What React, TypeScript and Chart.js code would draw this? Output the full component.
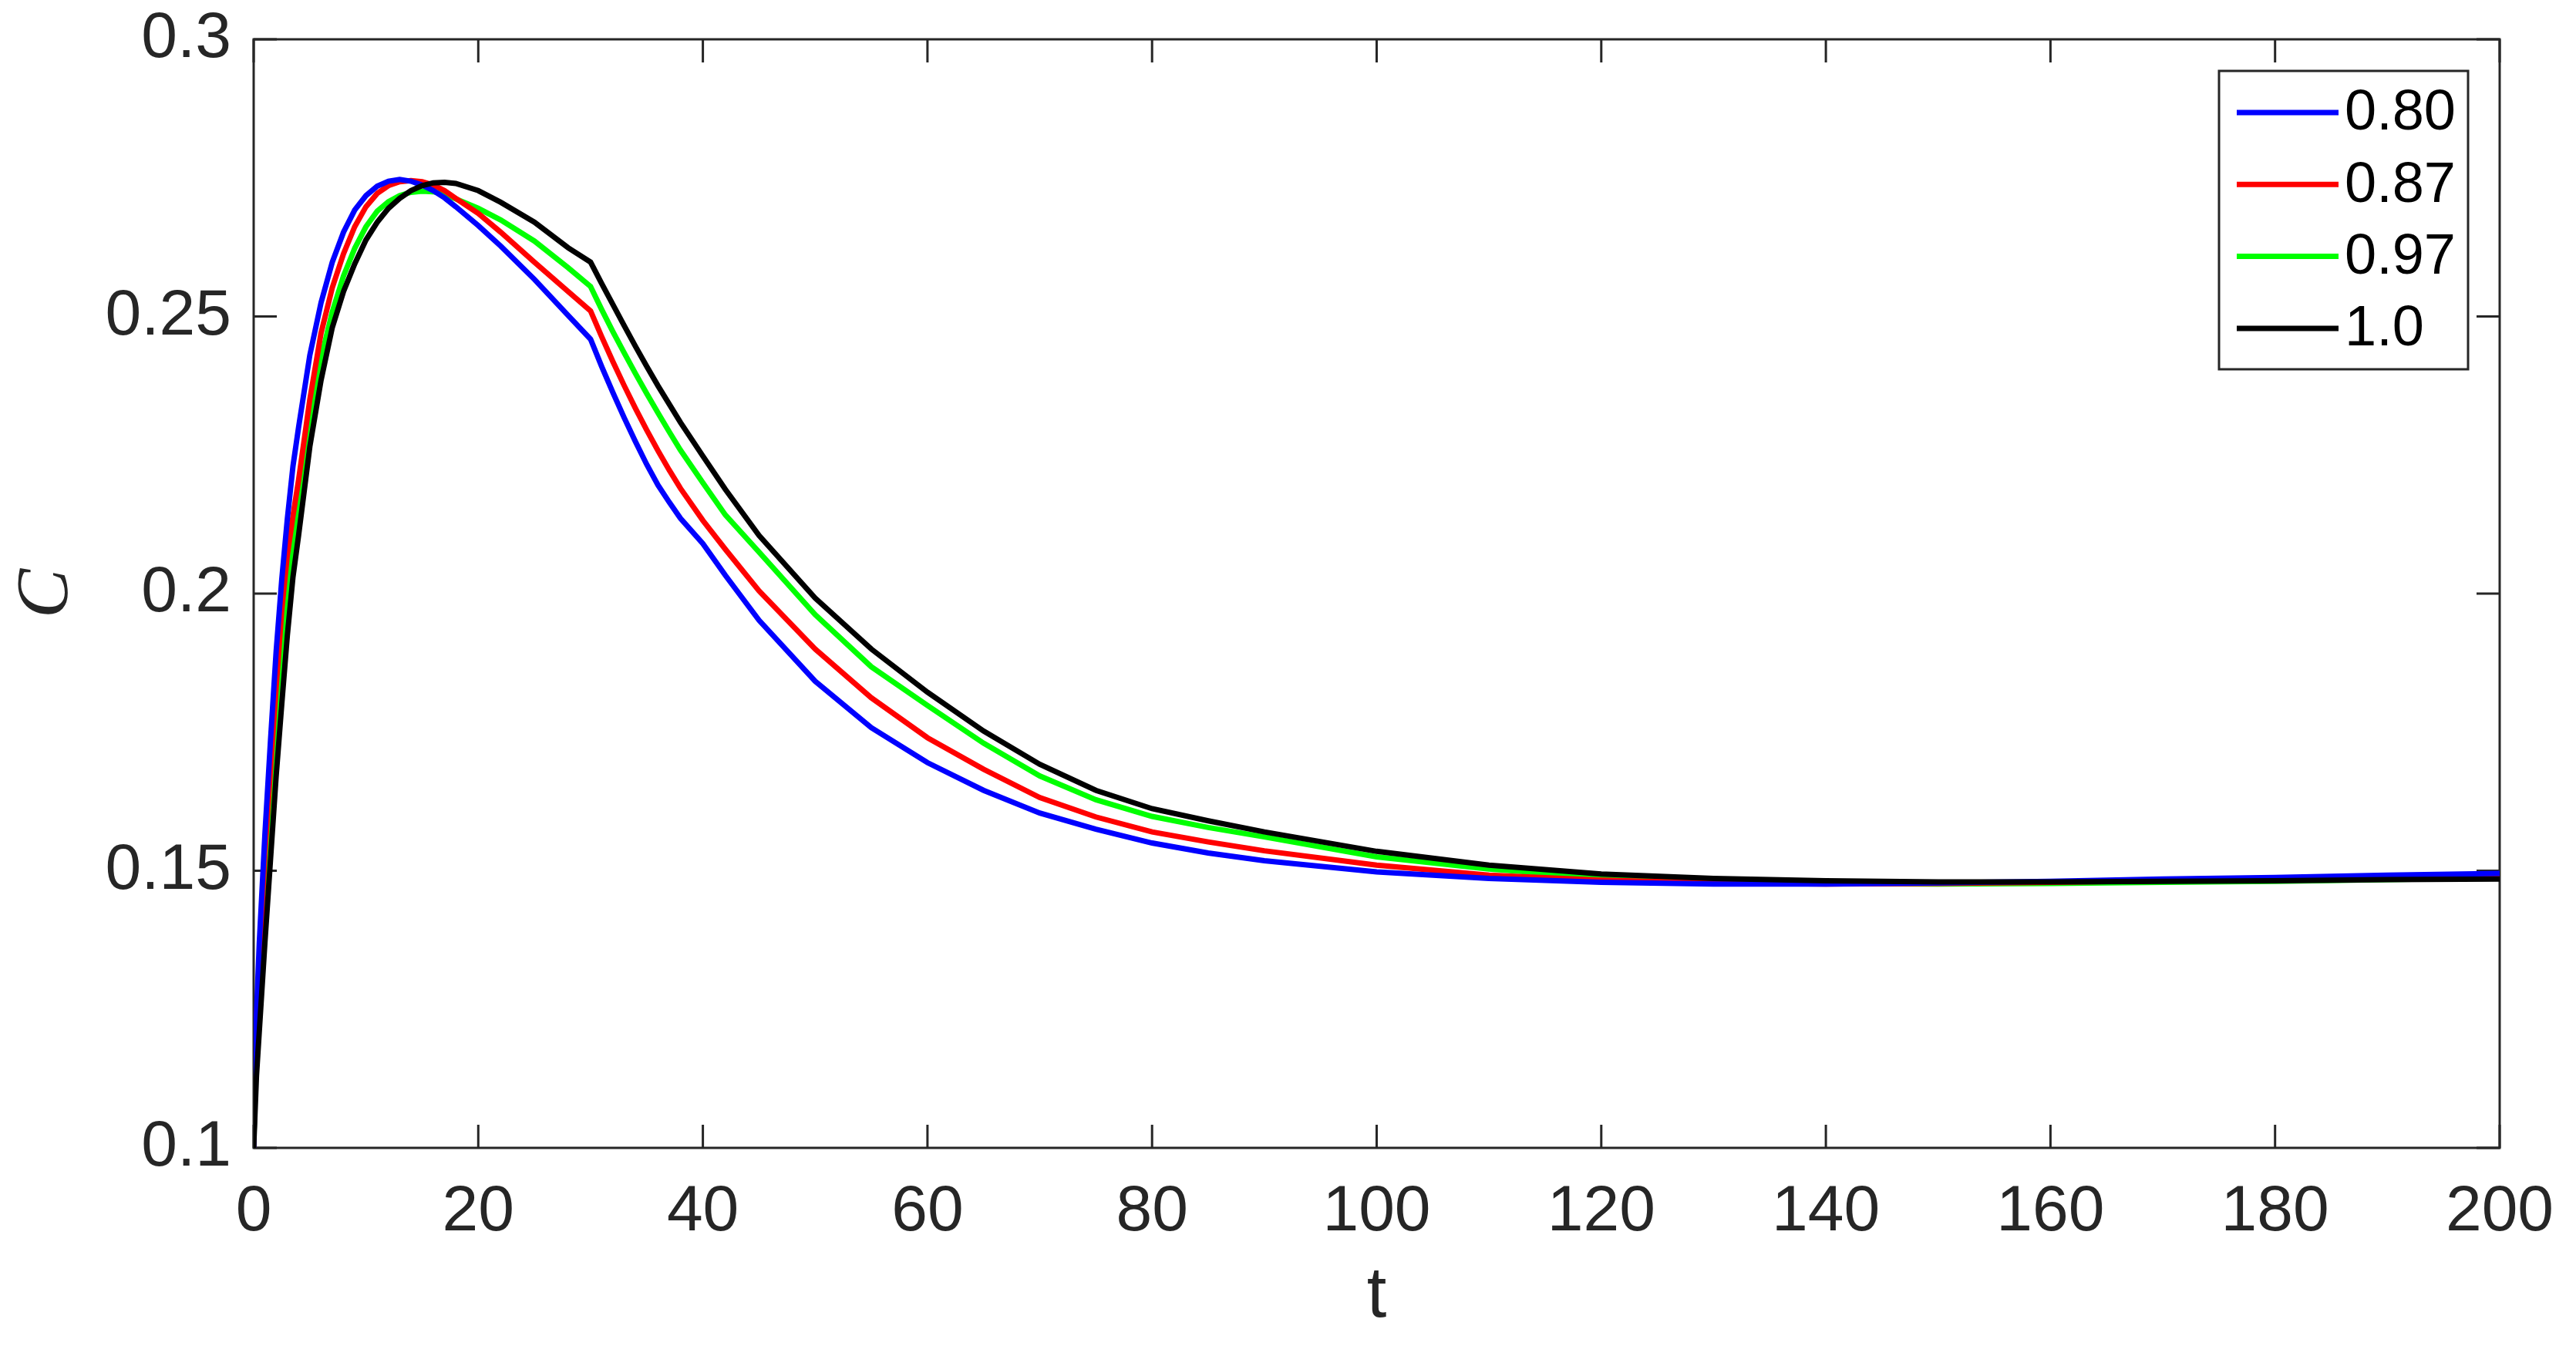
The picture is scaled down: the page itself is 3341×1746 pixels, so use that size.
import React, { useEffect, useRef } from "react";
import { Chart, registerables } from "chart.js";

Chart.register(...registerables);

// time samples (t)
const tValues = [
  0, 0.25, 0.5, 1, 1.5, 2, 2.5, 3, 3.5, 4, 5, 6, 7, 8, 9, 10, 11, 12, 13, 14, 15, 16, 17, 18,
  20, 22, 25, 28, 30, 31, 32, 33, 34, 35, 36, 37, 38, 40, 42, 45, 50, 55, 60, 65, 70, 75, 80, 85, 90,
  100, 110, 120, 130, 140, 150, 160, 170, 180, 190, 200,
];

// C values for each series
const c080 = [
  0.1, 0.124, 0.137, 0.1565, 0.1735, 0.1895, 0.2025, 0.2135, 0.223, 0.23, 0.243, 0.2525, 0.2598, 0.2652,
  0.2692, 0.2718, 0.2735, 0.2744, 0.2747, 0.2744, 0.2737, 0.2727, 0.2714, 0.2698,
  0.2664, 0.2627, 0.2567, 0.2502, 0.2459, 0.2409, 0.2362, 0.2317, 0.2274, 0.2233, 0.2196, 0.2165, 0.2136,
  0.209, 0.2033, 0.1952, 0.1842, 0.1758, 0.1695, 0.1645, 0.1604, 0.1575, 0.155, 0.1532, 0.1518,
  0.1498, 0.1486, 0.1479, 0.1476, 0.1476, 0.1478, 0.1481, 0.1485, 0.1488, 0.1492, 0.1495,
];

const c087 = [
  0.1, 0.123, 0.134, 0.153, 0.1685, 0.183, 0.197, 0.207, 0.214, 0.2205, 0.235, 0.247, 0.2552, 0.2613,
  0.2662, 0.2698, 0.2722, 0.2736, 0.2743, 0.2745, 0.2743, 0.2737, 0.2727, 0.2713,
  0.2686, 0.2652, 0.2598, 0.2545, 0.251, 0.2463, 0.2418, 0.2375, 0.2334, 0.2295, 0.2258, 0.2223, 0.219,
  0.2132, 0.208, 0.2005, 0.19, 0.1812, 0.174, 0.1683, 0.1632, 0.1597, 0.157, 0.1552, 0.1536,
  0.151, 0.1492, 0.1483, 0.1478, 0.1476, 0.1477, 0.1479, 0.1482, 0.1485, 0.1488, 0.1491,
];

const c097 = [
  0.1, 0.121, 0.131, 0.149, 0.163, 0.1765, 0.189, 0.2005, 0.209, 0.216, 0.2305, 0.2425, 0.2508, 0.2573,
  0.2623, 0.2662, 0.269, 0.2707, 0.2718, 0.2724, 0.2726, 0.2725, 0.272, 0.2712,
  0.2695, 0.2674, 0.2636, 0.2588, 0.2554, 0.2512, 0.2472, 0.2434, 0.2397, 0.2361, 0.2326, 0.2292, 0.2259,
  0.22, 0.2142, 0.2075, 0.1962, 0.1868, 0.1798, 0.173, 0.1671, 0.1628, 0.1598, 0.1578, 0.1561,
  0.1525, 0.1503, 0.1488, 0.1481, 0.1477, 0.1476, 0.1477, 0.1479, 0.1481, 0.1484, 0.1487,
];

const c100 = [
  0.1, 0.113, 0.121, 0.137, 0.152, 0.167, 0.18, 0.1925, 0.203, 0.2105, 0.2265, 0.2385, 0.248, 0.2545,
  0.2595, 0.2638, 0.267, 0.2695, 0.2713, 0.2727, 0.2736, 0.2741, 0.2742, 0.274,
  0.2727, 0.2706, 0.267, 0.2624, 0.2598, 0.2559, 0.2521, 0.2483, 0.2446, 0.241, 0.2375, 0.2342, 0.2309,
  0.2248, 0.2188, 0.2105, 0.1992, 0.19, 0.1822, 0.1752, 0.1692, 0.1645, 0.1612, 0.159, 0.157,
  0.1535, 0.151, 0.1494, 0.1486, 0.1482, 0.148, 0.148, 0.1481, 0.1482, 0.1484, 0.1485,
];

const seriesLabels = ["0.80", "0.87", "0.97", "1.0"];
const seriesColors = ["#0000ff", "#ff0000", "#00ff00", "#000000"];
const seriesValues = [c080, c087, c097, c100];
const seriesOrder = [2, 3, 4, 1];

const xTicks = [0, 20, 40, 60, 80, 100, 120, 140, 160, 180, 200];
const xTickLabels = ["0", "20", "40", "60", "80", "100", "120", "140", "160", "180", "200"];
const yTicks = [0.1, 0.15, 0.2, 0.25, 0.3];
const yTickLabels = ["0.1", "0.15", "0.2", "0.25", "0.3"];

const AXIS_COLOR = "#262626";
const SANS = "'Liberation Sans', Arial, Helvetica, sans-serif";

const framePlugin = {
  id: "matlabFrame",
  beforeDatasetsDraw(chart: any) {
    const { ctx, chartArea } = chart;
    const { left, right, top, bottom } = chartArea;
    const xs = chart.scales.x;
    const ys = chart.scales.y;
    const tl = 30;
    ctx.save();
    ctx.strokeStyle = AXIS_COLOR;
    ctx.lineWidth = 3;
    ctx.lineCap = "butt";
    ctx.beginPath();
    xTicks.forEach((v) => {
      const px = xs.getPixelForValue(v);
      ctx.moveTo(px, bottom);
      ctx.lineTo(px, bottom - tl);
      ctx.moveTo(px, top);
      ctx.lineTo(px, top + tl);
    });
    yTicks.forEach((v) => {
      const py = ys.getPixelForValue(v);
      ctx.moveTo(left, py);
      ctx.lineTo(left + tl, py);
      ctx.moveTo(right, py);
      ctx.lineTo(right - tl, py);
    });
    ctx.stroke();
    ctx.strokeRect(left, top, right - left, bottom - top);
    ctx.restore();
  },
};

const legendPlugin = {
  id: "boxLegend",
  afterDatasetsDraw(chart: any) {
    const { ctx, chartArea } = chart;
    const boxW = 323;
    const boxH = 387;
    const boxL = chartArea.right - 364;
    const boxT = chartArea.top + 41;
    ctx.save();
    ctx.fillStyle = "#ffffff";
    ctx.fillRect(boxL, boxT, boxW, boxH);
    ctx.strokeStyle = AXIS_COLOR;
    ctx.lineWidth = 3;
    ctx.strokeRect(boxL, boxT, boxW, boxH);
    chart.data.datasets.forEach((ds: any, i: number) => {
      const cy = boxT + 54 + i * 93.3;
      ctx.strokeStyle = ds.borderColor;
      ctx.lineWidth = 7;
      ctx.beginPath();
      ctx.moveTo(boxL + 23, cy);
      ctx.lineTo(boxL + 155, cy);
      ctx.stroke();
      ctx.fillStyle = "#000000";
      ctx.font = `74px ${SANS}`;
      ctx.textBaseline = "middle";
      ctx.textAlign = "left";
      ctx.fillText(ds.label, boxL + 163, cy + 2);
    });
    ctx.restore();
  },
};

export default function App() {
  const ref = useRef<HTMLCanvasElement>(null);

  useEffect(() => {
    const canvas = ref.current;
    if (!canvas) return;
    const chart = new Chart(canvas, {
      type: "line",
      data: {
        datasets: seriesLabels.map((label, k) => ({
          label,
          data: tValues.map((t, i) => ({ x: t, y: seriesValues[k][i] })),
          borderColor: seriesColors[k],
          backgroundColor: seriesColors[k],
          borderWidth: 7,
          pointRadius: 0,
          tension: 0,
          fill: false,
          order: seriesOrder[k],
        })),
      },
      options: {
        animation: false,
        responsive: false,
        devicePixelRatio: 1,
        layout: { padding: { top: 51, right: 99, left: 0, bottom: 0 } },
        plugins: {
          legend: { display: false },
          tooltip: { enabled: false },
        },
        scales: {
          x: {
            type: "linear",
            min: 0,
            max: 200,
            afterBuildTicks: (s: any) => {
              s.ticks = xTicks.map((v) => ({ value: v }));
            },
            afterFit: (s: any) => {
              s.height = 257;
              s.paddingLeft = 0;
              s.paddingRight = 0;
            },
            grid: { display: false, drawTicks: false },
            border: { display: false },
            ticks: {
              autoSkip: false,
              maxRotation: 0,
              padding: 33,
              color: AXIS_COLOR,
              font: { family: SANS, size: 84 },
              callback: (_v: any, i: number) => xTickLabels[i],
            },
            title: {
              display: true,
              text: "t",
              color: AXIS_COLOR,
              font: { family: SANS, size: 92 },
              padding: { top: 0, bottom: 8 },
            },
          },
          y: {
            type: "linear",
            min: 0.1,
            max: 0.3,
            afterBuildTicks: (s: any) => {
              s.ticks = yTicks.map((v) => ({ value: v }));
            },
            afterFit: (s: any) => {
              s.width = 329;
              s.paddingTop = 0;
              s.paddingBottom = 0;
            },
            grid: { display: false, drawTicks: false },
            border: { display: false },
            ticks: {
              autoSkip: false,
              padding: 29,
              color: AXIS_COLOR,
              font: { family: SANS, size: 84 },
              callback: (_v: any, i: number) => yTickLabels[i],
            },
            title: {
              display: true,
              text: "C",
              color: AXIS_COLOR,
              font: { family: "'Liberation Serif', 'Times New Roman', serif", size: 96, style: "italic" },
              padding: { top: 4, bottom: 0 },
            },
          },
        },
      },
      plugins: [framePlugin, legendPlugin],
    } as any);
    return () => chart.destroy();
  }, []);

  return (
    <div style={{ position: "fixed", left: 0, top: 0, width: 3341, height: 1746, background: "#ffffff" }}>
      <canvas ref={ref} width={3341} height={1746} style={{ display: "block", width: 3341, height: 1746 }} />
    </div>
  );
}
